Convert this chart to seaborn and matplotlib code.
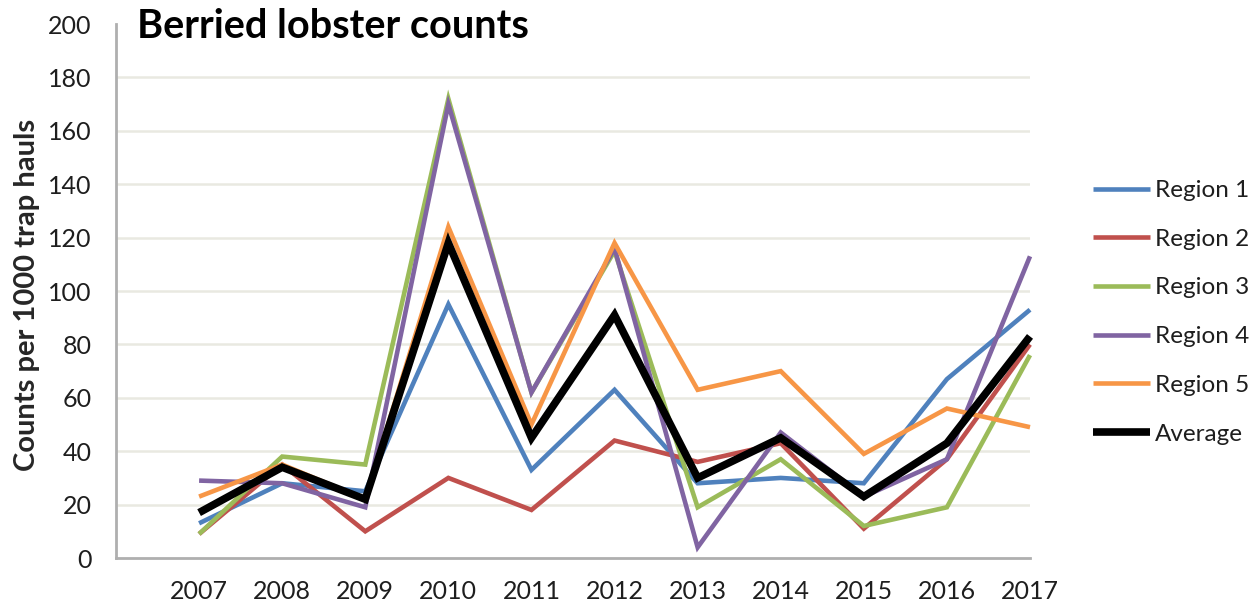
import matplotlib
matplotlib.use("Agg")
import matplotlib.pyplot as plt
import seaborn as sns
import pandas as pd

# ---- data ----
years = [2007, 2008, 2009, 2010, 2011, 2012, 2013, 2014, 2015, 2016, 2017]
region1 = [13, 28, 25, 95, 33, 63, 28, 30, 28, 67, 93]
region2 = [9, 35, 10, 30, 18, 44, 36, 43, 11, 37, 80]
region3 = [9, 38, 35, 172, 62, 115, 19, 37, 12, 19, 76]
region4 = [29, 28, 19, 170, 62, 116, 4, 47, 23, 37, 113]
region5 = [23, 35, 22, 124, 50, 118, 63, 70, 39, 56, 49]
average = [17, 34, 22, 118, 45, 91, 30, 45, 23, 43, 83]

series_names = ["Region 1", "Region 2", "Region 3", "Region 4", "Region 5", "Average"]
series_values = [region1, region2, region3, region4, region5, average]
colors = ["#4F81BD", "#C0504D", "#9BBB59", "#8064A2", "#F79646", "#000000"]
widths = [3.3, 3.3, 3.3, 3.3, 3.3, 5.5]

title = "Berried lobster counts"
ylabel = "Counts per 1000 trap hauls"
yticks = [0, 20, 40, 60, 80, 100, 120, 140, 160, 180, 200]

df = pd.DataFrame({
    "Year": years * len(series_names),
    "Count": [v for vals in series_values for v in vals],
    "Series": [n for n in series_names for _ in years],
})

sns.set_style("white")
plt.rcParams["font.family"] = ["Lato", "DejaVu Sans"]

fig = plt.figure(figsize=(12.5, 6.13), dpi=100)
ax = fig.add_axes([0.0928, 0.0897, 0.824 - 0.0928, 0.9608 - 0.0897])

grid_c = "#E9E9E1"
for t in yticks[1:-1]:
    ax.axhline(t, color=grid_c, lw=1.8, zorder=0)

for name, c, w in zip(series_names, colors, widths):
    sub = df[df["Series"] == name]
    sns.lineplot(data=sub, x="Year", y="Count", color=c, linewidth=w,
                 label=name, ax=ax, clip_on=False, solid_joinstyle="miter",
                 solid_capstyle="butt")

ax.set_xlim(years[0] - 1, years[-1])
ax.set_ylim(0, 200)
ax.set_xticks([years[0] - 1] + years)
ax.set_xticklabels([""] + [str(y) for y in years])
ax.set_yticks(yticks)
ax.set_xlabel("")
ax.set_ylabel(ylabel, fontsize=21, fontweight="bold")
ax.yaxis.set_label_coords(-0.083, 0.493)

axis_c = "#AFAFAF"
for s in ["top", "right"]:
    ax.spines[s].set_visible(False)
for s in ["left", "bottom"]:
    ax.spines[s].set_color(axis_c)
    ax.spines[s].set_linewidth(2.0)
ax.tick_params(axis="both", which="both", color=axis_c, width=2.0,
               direction="out", labelsize=18, labelcolor="#1E1E1E")
ax.tick_params(axis="y", length=6.5, pad=11)
ax.tick_params(axis="x", length=5, pad=11)

fig.text(137 / 1250, 1 - 27 / 613, title, fontsize=28.5, fontweight="bold",
         ha="left", va="center", color="#000000")

leg = ax.legend(loc="upper left", bbox_to_anchor=(1093 / 1250, 1 - 180 / 613),
                bbox_transform=fig.transFigure, frameon=False, fontsize=17.5,
                handlelength=2.35, handletextpad=0.2, labelspacing=1.14,
                borderpad=0, borderaxespad=0)
for text in leg.get_texts():
    text.set_color("#1E1E1E")

fig.savefig("out.png", dpi=100, facecolor="white")
